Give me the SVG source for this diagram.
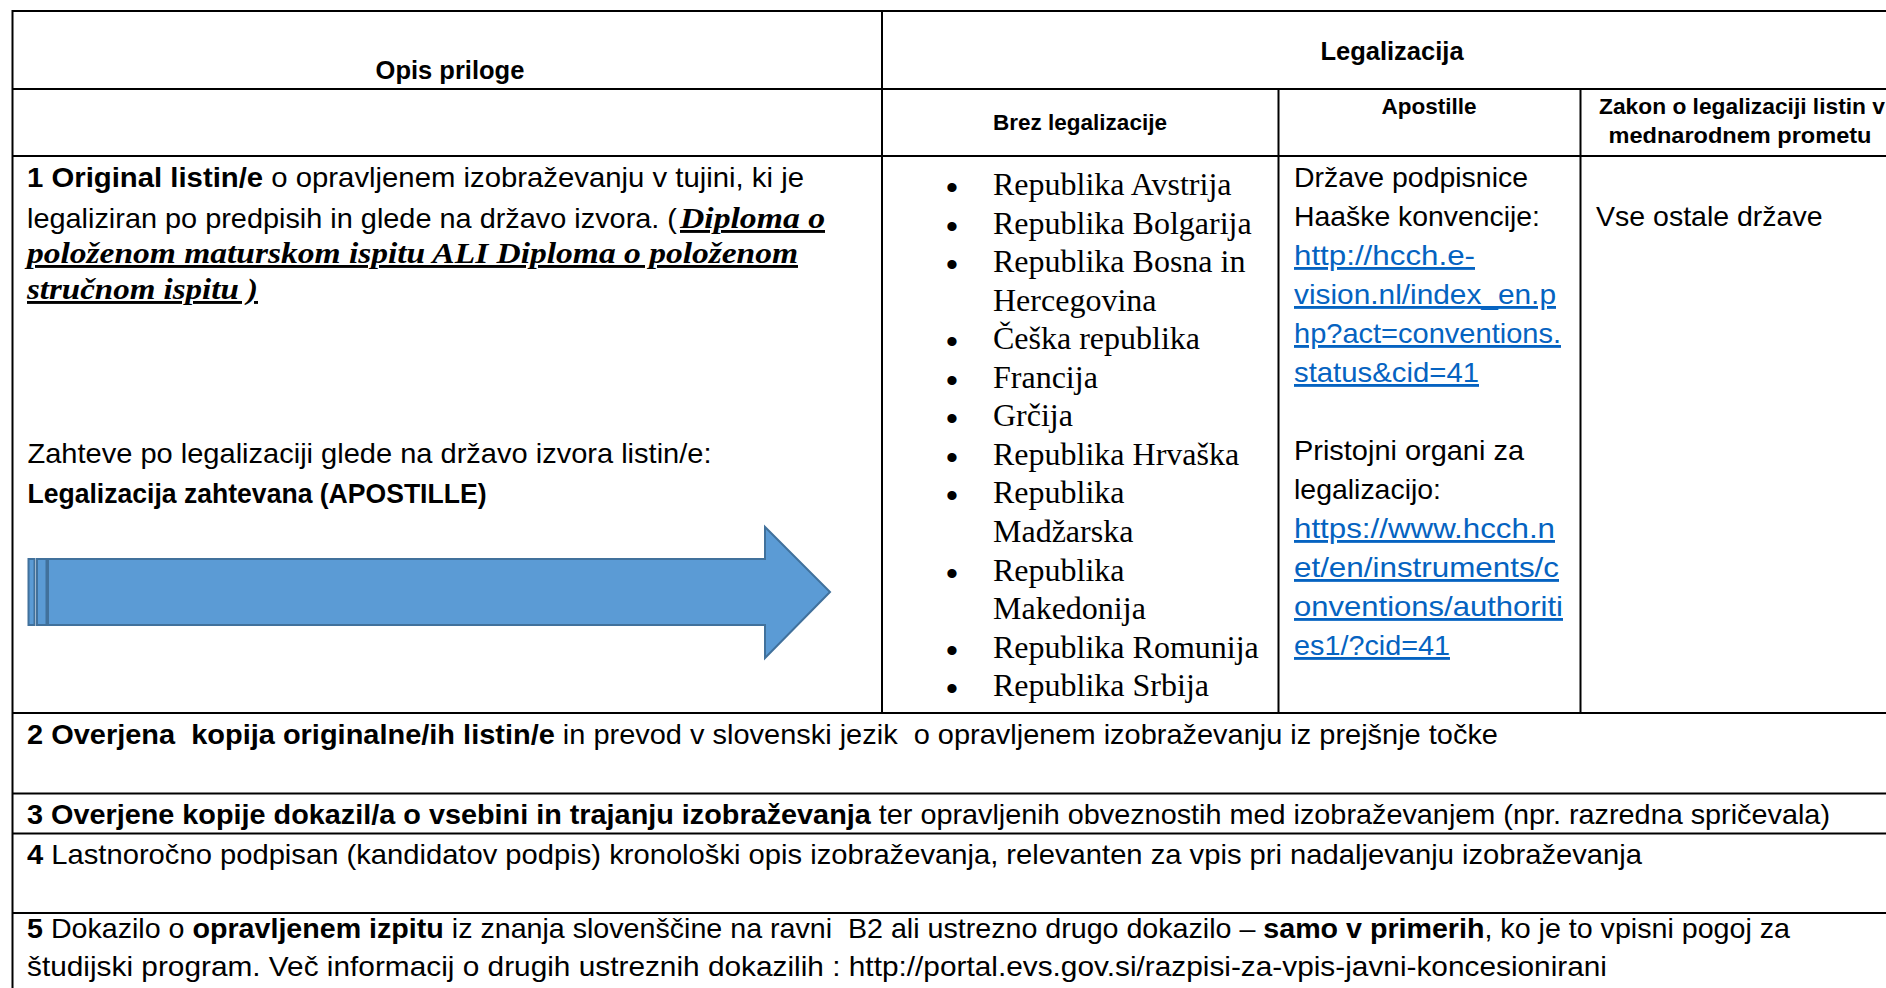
<svg xmlns="http://www.w3.org/2000/svg" width="1886" height="988" viewBox="0 0 1886 988">
<style>
  .grid line { stroke:#000; stroke-width:2; }
  text { font-family:"Liberation Sans", Arial, sans-serif; fill:#000; }
  .b { font-weight:bold; }
  .h1 { font-size:25.5px; font-weight:bold; }
  .h2 { font-size:22.5px; font-weight:bold; }
  .t { font-size:28.5px; }
  .ser { font-family:"Liberation Serif", "Times New Roman", serif; font-size:32px; }
  .serbi { font-family:"Liberation Serif", "Times New Roman", serif; font-size:29px; font-weight:bold; font-style:italic; text-decoration:underline; }
  .lnk { fill:#0563C1; text-decoration:underline; }
  .bul { font-size:34px; }
  .arr { fill:#5B9BD5; stroke:#41719C; stroke-width:2; }
</style>
<rect x="0" y="0" width="1886" height="988" fill="#fff"/>

<g id="grid" class="grid">
  <line x1="12.5" y1="11" x2="1886" y2="11"/>
  <line x1="12.5" y1="89" x2="1886" y2="89"/>
  <line x1="12.5" y1="156" x2="1886" y2="156"/>
  <line x1="12.5" y1="713" x2="1886" y2="713"/>
  <line x1="12.5" y1="793.5" x2="1886" y2="793.5"/>
  <line x1="12.5" y1="833.5" x2="1886" y2="833.5"/>
  <line x1="12.5" y1="913" x2="1886" y2="913"/>
  <line x1="12.5" y1="10" x2="12.5" y2="988"/>
  <line x1="882" y1="10" x2="882" y2="713"/>
  <line x1="1278.5" y1="89" x2="1278.5" y2="713"/>
  <line x1="1580.5" y1="89" x2="1580.5" y2="713"/>
</g>

<g id="header-opis">
  <text class="h1" x="450" y="79" text-anchor="middle">Opis priloge</text>
</g>
<g id="header-legalizacija">
  <text class="h1" x="1392" y="60" text-anchor="middle">Legalizacija</text>
</g>
<g id="header-brez">
  <text class="h2" x="1080" y="130" text-anchor="middle">Brez legalizacije</text>
</g>
<g id="header-apostille">
  <text class="h2" x="1429" y="114" text-anchor="middle">Apostille</text>
</g>
<g id="header-zakon">
  <text class="h2" x="1742" y="114" text-anchor="middle" textLength="286" lengthAdjust="spacingAndGlyphs">Zakon o legalizaciji listin v</text>
  <text class="h2" x="1740" y="143" text-anchor="middle" textLength="263" lengthAdjust="spacingAndGlyphs">mednarodnem prometu</text>
</g>

<g id="row1-opis">
  <text class="t" x="27" y="187" textLength="777" lengthAdjust="spacingAndGlyphs"><tspan class="b">1 Original listin/e</tspan> o opravljenem izobraževanju v tujini, ki je</text>
  <text class="t" x="27" y="228" textLength="650" lengthAdjust="spacingAndGlyphs">legaliziran po predpisih in glede na državo izvora. (</text>
  <text class="serbi" x="680" y="228" textLength="145" lengthAdjust="spacingAndGlyphs">Diploma o</text>
  <text class="serbi" x="27" y="263" textLength="771" lengthAdjust="spacingAndGlyphs">položenom maturskom ispitu ALI Diploma o položenom</text>
  <text class="serbi" x="27" y="299" textLength="231" lengthAdjust="spacingAndGlyphs">stručnom ispitu )</text>
  <text class="t" x="27.5" y="463" textLength="684" lengthAdjust="spacingAndGlyphs">Zahteve po legalizaciji glede na državo izvora listin/e:</text>
  <text class="t b" x="27.5" y="503" textLength="459" lengthAdjust="spacingAndGlyphs">Legalizacija zahtevana (APOSTILLE)</text>
</g>

<g id="arrow">
  <rect class="arr" x="28.5" y="559" width="6" height="66" stroke-width="1.5"/>
  <rect class="arr" x="37" y="559" width="9.5" height="66" stroke-width="1.5"/>
  <polygon class="arr" points="48,559 765,559 765,527 830,592 765,658 765,625 48,625"/>
</g>

<g id="row1-brez">
  <text class="bul" x="952" y="199" text-anchor="middle">•</text>
  <text class="bul" x="952" y="237.6" text-anchor="middle">•</text>
  <text class="bul" x="952" y="276.1" text-anchor="middle">•</text>
  <text class="bul" x="952" y="353.2" text-anchor="middle">•</text>
  <text class="bul" x="952" y="391.8" text-anchor="middle">•</text>
  <text class="bul" x="952" y="430.3" text-anchor="middle">•</text>
  <text class="bul" x="952" y="468.9" text-anchor="middle">•</text>
  <text class="bul" x="952" y="507.4" text-anchor="middle">•</text>
  <text class="bul" x="952" y="584.5" text-anchor="middle">•</text>
  <text class="bul" x="952" y="661.6" text-anchor="middle">•</text>
  <text class="bul" x="952" y="700.2" text-anchor="middle">•</text>
  <text class="ser" x="993" y="195">Republika Avstrija</text>
  <text class="ser" x="993" y="233.6">Republika Bolgarija</text>
  <text class="ser" x="993" y="272.1">Republika Bosna in</text>
  <text class="ser" x="993" y="310.7">Hercegovina</text>
  <text class="ser" x="993" y="349.2">Češka republika</text>
  <text class="ser" x="993" y="387.8">Francija</text>
  <text class="ser" x="993" y="426.3">Grčija</text>
  <text class="ser" x="993" y="464.9">Republika Hrvaška</text>
  <text class="ser" x="993" y="503.4">Republika</text>
  <text class="ser" x="993" y="542">Madžarska</text>
  <text class="ser" x="993" y="580.5">Republika</text>
  <text class="ser" x="993" y="619.1">Makedonija</text>
  <text class="ser" x="993" y="657.6">Republika Romunija</text>
  <text class="ser" x="993" y="696.2">Republika Srbija</text>
</g>

<g id="row1-apostille">
  <text class="t" x="1294" y="187" textLength="234" lengthAdjust="spacingAndGlyphs">Države podpisnice</text>
  <text class="t" x="1294" y="226" textLength="246" lengthAdjust="spacingAndGlyphs">Haaške konvencije:</text>
  <text class="t lnk" x="1294" y="265" textLength="181" lengthAdjust="spacingAndGlyphs">http://hcch.e-</text>
  <text class="t lnk" x="1294" y="304" textLength="262" lengthAdjust="spacingAndGlyphs">vision.nl/index_en.p</text>
  <text class="t lnk" x="1294" y="343" textLength="267" lengthAdjust="spacingAndGlyphs">hp?act=conventions.</text>
  <text class="t lnk" x="1294" y="382" textLength="185" lengthAdjust="spacingAndGlyphs">status&amp;cid=41</text>
  <text class="t" x="1294" y="460" textLength="230" lengthAdjust="spacingAndGlyphs">Pristojni organi za</text>
  <text class="t" x="1294" y="499" textLength="147" lengthAdjust="spacingAndGlyphs">legalizacijo:</text>
  <text class="t lnk" x="1294" y="538" textLength="261" lengthAdjust="spacingAndGlyphs">https://www.hcch.n</text>
  <text class="t lnk" x="1294" y="577" textLength="265" lengthAdjust="spacingAndGlyphs">et/en/instruments/c</text>
  <text class="t lnk" x="1294" y="616" textLength="269" lengthAdjust="spacingAndGlyphs">onventions/authoriti</text>
  <text class="t lnk" x="1294" y="655" textLength="156" lengthAdjust="spacingAndGlyphs">es1/?cid=41</text>
</g>

<g id="row1-zakon">
  <text class="t" x="1596" y="226">Vse ostale države</text>
</g>

<g id="row2">
  <text class="t" x="27" y="744" xml:space="preserve" textLength="1471" lengthAdjust="spacingAndGlyphs"><tspan class="b">2 Overjena  kopija originalne/ih listin/e</tspan> in prevod v slovenski jezik  o opravljenem izobraževanju iz prejšnje točke</text>
</g>
<g id="row3">
  <text class="t" x="27" y="824" textLength="1803" lengthAdjust="spacingAndGlyphs"><tspan class="b">3 Overjene kopije dokazil/a o vsebini in trajanju izobraževanja</tspan> ter opravljenih obveznostih med izobraževanjem (npr. razredna spričevala)</text>
</g>
<g id="row4">
  <text class="t" x="27" y="864" textLength="1615" lengthAdjust="spacingAndGlyphs"><tspan class="b">4</tspan> Lastnoročno podpisan (kandidatov podpis) kronološki opis izobraževanja, relevanten za vpis pri nadaljevanju izobraževanja</text>
</g>
<g id="row5">
  <text class="t" x="27" y="938" xml:space="preserve" textLength="1763" lengthAdjust="spacingAndGlyphs"><tspan class="b">5</tspan> Dokazilo o <tspan class="b">opravljenem izpitu</tspan> iz znanja slovenščine na ravni  B2 ali ustrezno drugo dokazilo – <tspan class="b">samo v primerih</tspan>, ko je to vpisni pogoj za</text>
  <text class="t" x="27" y="976" textLength="1580" lengthAdjust="spacingAndGlyphs">študijski program. Več informacij o drugih ustreznih dokazilih : http://portal.evs.gov.si/razpisi-za-vpis-javni-koncesionirani</text>
</g>
</svg>
